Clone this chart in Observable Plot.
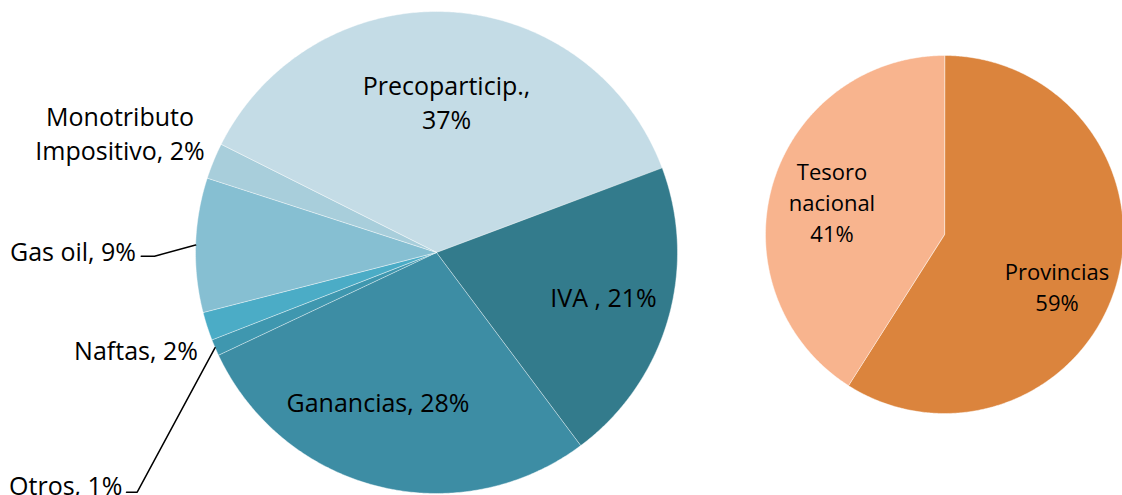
<!DOCTYPE html>
<html>
<head>
<meta charset="utf-8">
<script src="https://cdn.jsdelivr.net/npm/d3@7"></script>
<script src="https://cdn.jsdelivr.net/npm/@observablehq/plot@0.6"></script>
<style>
  html, body { margin: 0; padding: 0; background: #fff; }
  #chart { width: 1122px; height: 495px; overflow: hidden; }
</style>
</head>
<body>
<div id="chart"></div>
<script>
// ---- Data ----
const leftCategories = ["Precoparticip.", "IVA", "Ganancias", "Otros", "Naftas", "Gas oil", "Monotributo Impositivo"];
const leftValues = [36.9, 20.5, 28.2, 1.1, 1.9, 9.0, 2.4];
const leftLabels = ["Precoparticip.,\n37%", "IVA , 21%", "Ganancias, 28%", "Otros, 1%", "Naftas, 2%", "Gas oil, 9%", "Monotributo\nImpositivo, 2%"];

const rightCategories = ["Provincias", "Tesoro nacional"];
const rightValues = [59, 41];
const rightLabels = ["Provincias\n59%", "Tesoro\nnacional\n41%"];

// ---- Styles / layout ----
const leftColors = ["#C4DCE6", "#337B8C", "#3D8DA4", "#3F97AF", "#4BACC6", "#86BFD2", "#A8CEDB"];
const rightColors = ["#DB843D", "#F8B48E"];
const pieA = {cx: 436, cy: 252, r: 241, start: 296.6};
const pieB = {cx: 944, cy: 234, r: 179, start: 0};
const fontLeft = 25, fontRight = 22;
// label anchor points (centre of text block), in pixels
const leftLabelPos = [[446, 101], [603, 295.3], [377.5, 401], [65.3, 483.7], [135.5, 349], [72.5, 250], [119.5, 131.5]];
const rightLabelPos = [[1056.5, 292.5 - 0.32 * fontRight], [831.5, 208 - 0.32 * fontRight]];
// leader lines: label-side points, ending on the slice edge at its mid angle
const leaders = {"Gas oil": [[140.7, 255.7], [154, 255.7]], "Otros": [[126, 491.7], [136.7, 491.7]]};

// ---- Geometry from values ----
function pieSlices(cats, vals, pie) {
  const total = d3.sum(vals);
  let a = pie.start;
  const out = [];
  cats.forEach((c, i) => {
    const a0 = a, a1 = a + vals[i] / total * 360;
    a = a1;
    const pts = [{name: c, x: pie.cx, y: pie.cy}];
    const n = Math.max(2, Math.ceil((a1 - a0) / 0.5));
    for (let k = 0; k <= n; k++) {
      const t = (a0 + (a1 - a0) * k / n) * Math.PI / 180;
      pts.push({name: c, x: pie.cx + pie.r * Math.sin(t), y: pie.cy - pie.r * Math.cos(t)});
    }
    out.push({name: c, a0, a1, pts});
  });
  return out;
}
const slA = pieSlices(leftCategories, leftValues, pieA);
const slB = pieSlices(rightCategories, rightValues, pieB);
const polyData = [...slA, ...slB].flatMap(s => s.pts);

const leaderData = [];
for (const s of slA) {
  if (leaders[s.name]) {
    const m = ((s.a0 + s.a1) / 2) * Math.PI / 180;
    const pts = [...leaders[s.name], [pieA.cx + pieA.r * Math.sin(m), pieA.cy - pieA.r * Math.cos(m)]];
    pts.forEach(p => leaderData.push({name: s.name, x: p[0], y: p[1]}));
  }
}

const leftText = leftLabels.map((t, i) => ({text: t, x: leftLabelPos[i][0], y: leftLabelPos[i][1]}));
const rightText = rightLabels.map((t, i) => ({text: t, x: rightLabelPos[i][0], y: rightLabelPos[i][1]}));

const chart = Plot.plot({
  width: 1122,
  height: 495,
  margin: 0,
  x: {domain: [0, 1122], range: [0, 1122], axis: null},
  y: {domain: [0, 495], range: [0, 495], axis: null},
  color: {domain: [...leftCategories, ...rightCategories], range: [...leftColors, ...rightColors]},
  style: {fontFamily: "'Open Sans', Lato, sans-serif", background: "#fff", color: "#000"},
  marks: [
    Plot.line(polyData, {x: "x", y: "y", z: "name", fill: "name", stroke: "#ffffff", strokeOpacity: 0.55, strokeWidth: 0.8, curve: "linear-closed"}),
    Plot.line(leaderData, {x: "x", y: "y", z: "name", stroke: "#000", strokeWidth: 1.5}),
    Plot.text(leftText, {x: "x", y: "y", text: "text", fontSize: fontLeft, lineHeight: 34 / fontLeft, textAnchor: "middle", fill: "#000"}),
    Plot.text(rightText, {x: "x", y: "y", text: "text", fontSize: fontRight, lineHeight: 31 / fontRight, textAnchor: "middle", fill: "#000"})
  ]
});
document.getElementById("chart").appendChild(chart);
</script>
</body>
</html>
